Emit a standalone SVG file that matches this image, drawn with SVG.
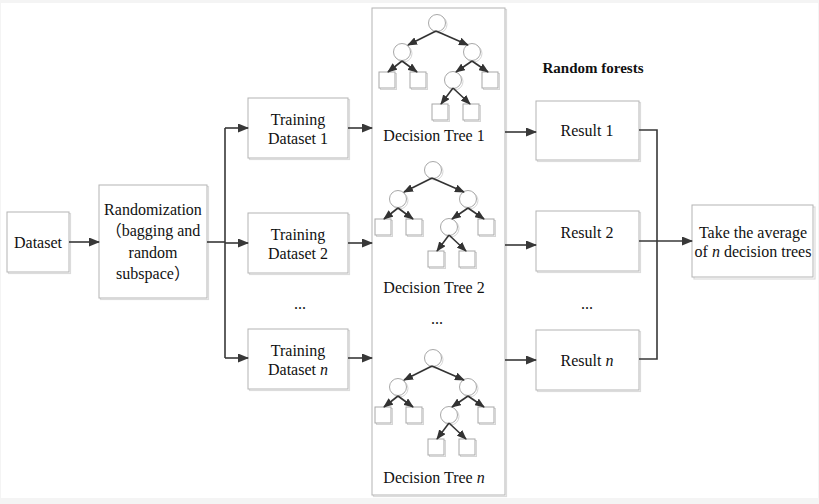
<svg xmlns="http://www.w3.org/2000/svg" xmlns:xlink="http://www.w3.org/1999/xlink" width="819" height="504" viewBox="0 0 819 504">
<style>
  text { font-family: "Liberation Serif", "Times New Roman", "Noto Sans CJK SC", serif; font-size: 16px; fill: #111; text-anchor: middle; }
  .cjk { font-family: "Noto Sans CJK SC", "Noto Sans CJK JP", sans-serif; }
  .bold { font-weight: bold; font-size: 15px; }
  .it { font-style: italic; }
  .box { fill: #fff; stroke: #b4b4b4; stroke-width: 1; }
  .shadow { fill: none; stroke: #dcdcdc; stroke-width: 1.2; }
  .conn { fill: none; stroke: #383838; stroke-width: 1.6; }
  .tconn { fill: none; stroke: #333; stroke-width: 1.6; }
</style>
<defs>
  <marker id="ah" markerUnits="userSpaceOnUse" markerWidth="11" markerHeight="9" refX="10" refY="4.5" orient="auto">
    <path d="M0,0 L11,4.5 L0,9 z" fill="#383838"/>
  </marker>
  <marker id="ta" markerUnits="userSpaceOnUse" markerWidth="10" markerHeight="8" refX="9" refY="4" orient="auto">
    <path d="M0,0 L10,4 L0,8 z" fill="#333"/>
  </marker>
  <g id="tshapes" fill="#fff">
    <circle cx="0" cy="0" r="8.5"/>
    <circle cx="-35" cy="29" r="8.5"/>
    <circle cx="35" cy="29" r="8.5"/>
    <circle cx="16" cy="57" r="8.5"/>
    <rect x="-58" y="49" width="16" height="16"/>
    <rect x="-27" y="49" width="16" height="16"/>
    <rect x="45" y="49" width="16" height="16"/>
    <rect x="-5" y="81" width="16" height="16"/>
    <rect x="26" y="81" width="16" height="16"/>
  </g>
  <g id="tree">
    <use xlink:href="#tshapes" transform="translate(1.5,1.5)" stroke="#d6d6d6" stroke-width="1"/>
    <use xlink:href="#tshapes" stroke="#a8a8a8" stroke-width="1"/>
    <g class="tconn">
      <line x1="-1" y1="8" x2="-29" y2="22" marker-end="url(#ta)"/>
      <line x1="-1" y1="8" x2="31" y2="22" marker-end="url(#ta)"/>
      <line x1="-35" y1="38" x2="-49" y2="49" marker-end="url(#ta)"/>
      <line x1="-35" y1="38" x2="-20" y2="49" marker-end="url(#ta)"/>
      <line x1="35" y1="38" x2="19" y2="49" marker-end="url(#ta)"/>
      <line x1="35" y1="38" x2="51" y2="49" marker-end="url(#ta)"/>
      <line x1="16" y1="65" x2="4" y2="81" marker-end="url(#ta)"/>
      <line x1="16" y1="65" x2="33" y2="81" marker-end="url(#ta)"/>
    </g>
  </g>
</defs>

<rect x="0" y="0" width="819" height="504" fill="#f4f4f4"/>
<rect x="1" y="3" width="817" height="495" fill="#fff"/>

<g id="forest">
  <rect x="373.5" y="9.5" width="133" height="487" class="shadow"/>
  <rect x="372" y="8" width="133" height="487" class="box"/>
  <use xlink:href="#tree" x="437" y="23"/>
  <text x="434" y="140.5">Decision Tree 1</text>
  <use xlink:href="#tree" x="433" y="170"/>
  <text x="434" y="292.5">Decision Tree 2</text>
  <text x="437" y="324">...</text>
  <use xlink:href="#tree" x="433" y="358"/>
  <text x="434" y="482.5">Decision Tree <tspan class="it">n</tspan></text>
</g>

<g id="dataset">
  <rect x="8.5" y="213.5" width="62" height="60" class="shadow"/>
  <rect x="7" y="212" width="62" height="60" class="box"/>
  <text x="38" y="247.5">Dataset</text>
</g>

<g id="randomization">
  <rect x="100.5" y="186.5" width="108" height="113" class="shadow"/>
  <rect x="99" y="185" width="108" height="113" class="box"/>
  <text x="153" y="214.5">Randomization</text>
  <text x="153" y="235.5"><tspan class="cjk">（</tspan>bagging and</text>
  <text x="153" y="257.5">random</text>
  <text x="153" y="278.5">subspace<tspan class="cjk">）</tspan></text>
</g>

<g id="training1">
  <rect x="249.5" y="99.5" width="100" height="60" class="shadow"/>
  <rect x="248" y="98" width="100" height="60" class="box"/>
  <text x="298" y="124.5">Training</text>
  <text x="298" y="143.5">Dataset 1</text>
</g>
<g id="training2">
  <rect x="249.5" y="214.5" width="100" height="60" class="shadow"/>
  <rect x="248" y="213" width="100" height="60" class="box"/>
  <text x="298" y="239.5">Training</text>
  <text x="298" y="258.5">Dataset 2</text>
</g>
<text x="300" y="309">...</text>
<g id="trainingn">
  <rect x="249.5" y="330.5" width="100" height="60" class="shadow"/>
  <rect x="248" y="329" width="100" height="60" class="box"/>
  <text x="298" y="355.5">Training</text>
  <text x="298" y="374.5">Dataset <tspan class="it">n</tspan></text>
</g>

<text x="593" y="73" class="bold">Random forests</text>

<g id="result1">
  <rect x="537.5" y="102.5" width="103" height="59" class="shadow"/>
  <rect x="536" y="101" width="103" height="59" class="box"/>
  <text x="587" y="135.5">Result 1</text>
</g>
<g id="result2">
  <rect x="537.5" y="212.5" width="103" height="60" class="shadow"/>
  <rect x="536" y="211" width="103" height="60" class="box"/>
  <text x="587" y="237.5">Result 2</text>
</g>
<text x="587" y="309">...</text>
<g id="resultn">
  <rect x="537.5" y="331.5" width="103" height="60" class="shadow"/>
  <rect x="536" y="330" width="103" height="60" class="box"/>
  <text x="587" y="365.5">Result <tspan class="it">n</tspan></text>
</g>

<g id="average">
  <rect x="694" y="207" width="121" height="72" class="shadow"/>
  <rect x="692" y="205" width="121" height="72" class="box"/>
  <text x="753" y="237.5">Take the average</text>
  <text x="753" y="256.5">of <tspan class="it">n</tspan> decision trees</text>
</g>

<g id="connectors" class="conn">
  <line x1="69" y1="242" x2="99" y2="242" marker-end="url(#ah)"/>
  <line x1="207" y1="242" x2="225" y2="242"/>
  <line x1="225" y1="128" x2="225" y2="358"/>
  <line x1="225" y1="128" x2="248" y2="128" marker-end="url(#ah)"/>
  <line x1="225" y1="243" x2="248" y2="243" marker-end="url(#ah)"/>
  <line x1="225" y1="358" x2="248" y2="358" marker-end="url(#ah)"/>
  <line x1="348" y1="128" x2="372" y2="128" marker-end="url(#ah)"/>
  <line x1="348" y1="243" x2="372" y2="243" marker-end="url(#ah)"/>
  <line x1="348" y1="358" x2="372" y2="358" marker-end="url(#ah)"/>
  <line x1="505" y1="132" x2="536" y2="132" marker-end="url(#ah)"/>
  <line x1="505" y1="245" x2="536" y2="245" marker-end="url(#ah)"/>
  <line x1="505" y1="360" x2="536" y2="360" marker-end="url(#ah)"/>
  <polyline points="639,130 657,130 657,359 639,359"/>
  <line x1="639" y1="241" x2="692" y2="241" marker-end="url(#ah)"/>
</g>
</svg>
